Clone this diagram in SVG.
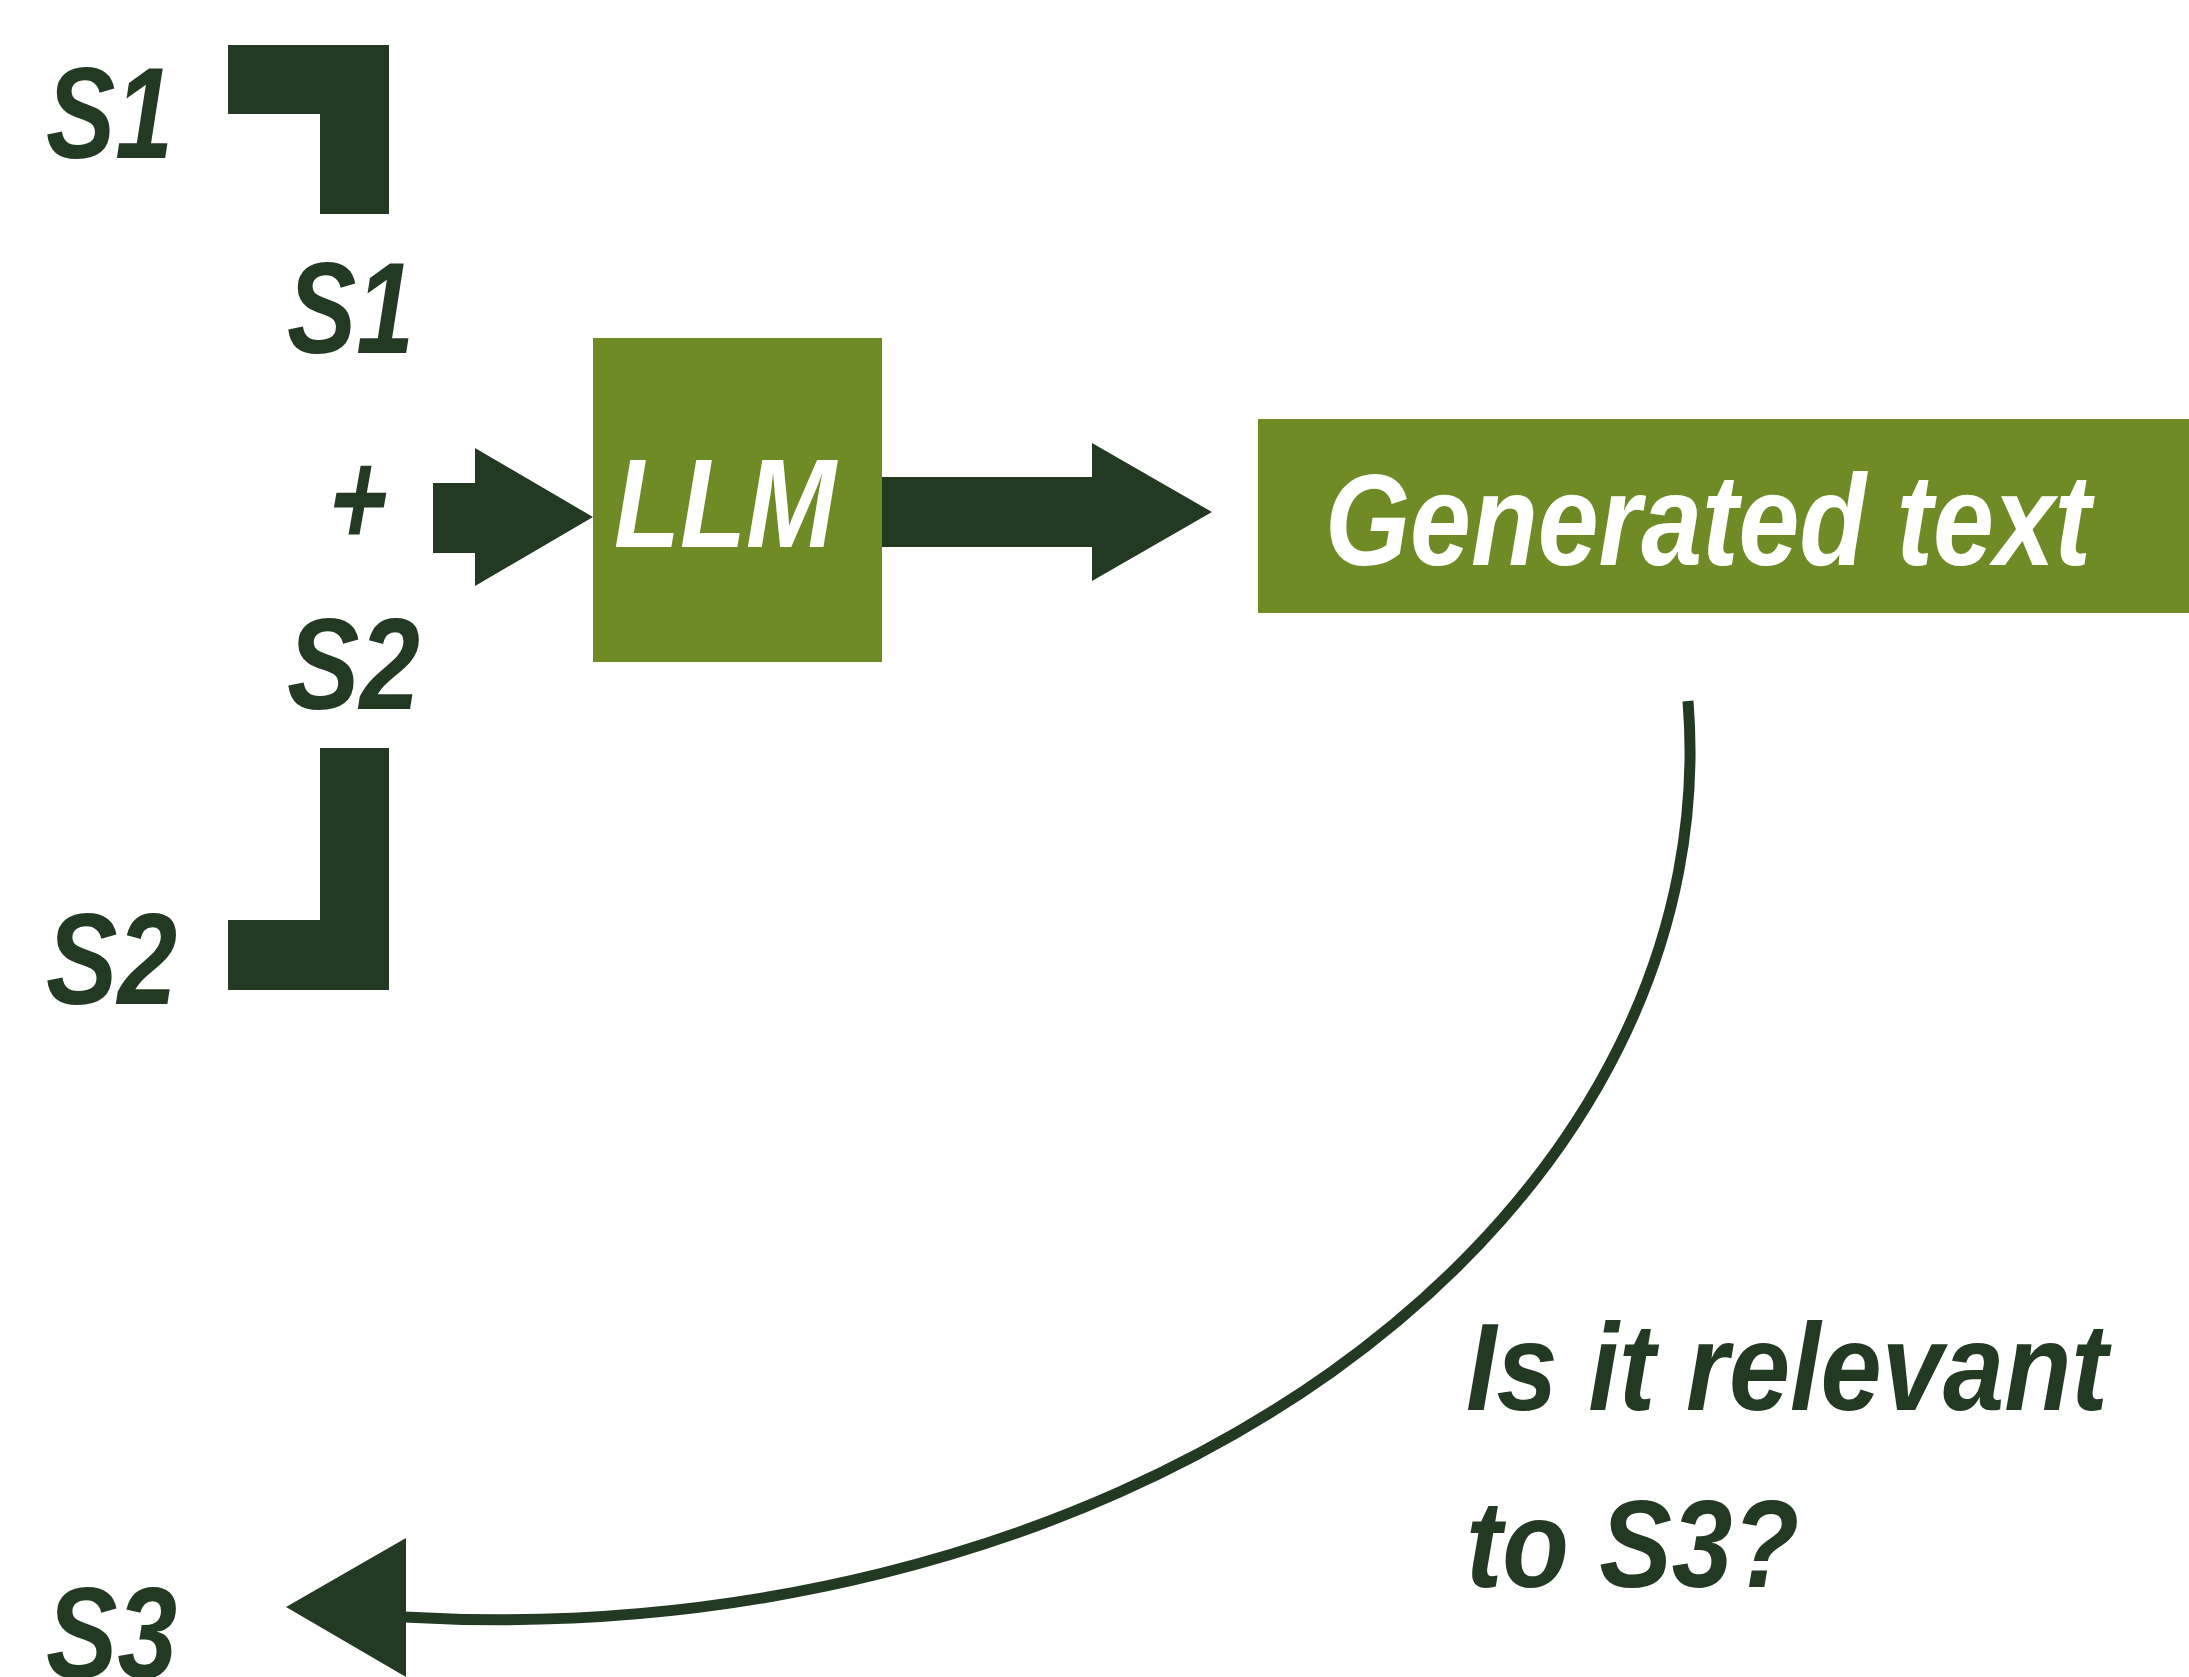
<svg xmlns="http://www.w3.org/2000/svg" width="2189" height="1677" viewBox="0 0 2189 1677">
  <style>
    .dk { fill: #233a22; }
    .box { fill: #6e8b25; }
    .lbl { font-family: "Liberation Sans", Arial, sans-serif; font-weight: bold; font-style: italic; fill: #233a22; }
    .wt { font-family: "Liberation Sans", Arial, sans-serif; font-weight: bold; font-style: italic; fill: #ffffff; }
    .line { fill: none; stroke: #233a22; stroke-width: 11; }
  </style>
  <rect width="2189" height="1677" fill="#ffffff"/>

  <g id="connectors">
    <polygon class="dk" points="228,45 389,45 389,214 320,214 320,114 228,114"/>
    <polygon class="dk" points="320,748 389,748 389,990 228,990 228,920 320,920"/>
    <polygon class="dk" points="433,483 475,483 475,448 593,517 475,586 475,553 433,553"/>
    <polygon class="dk" points="882,477 1092,477 1092,443 1212,512 1092,581 1092,547 882,547"/>
    <path class="line" d="M 1688 701 A 1193 868 0 0 1 404 1617"/>
    <polygon class="dk" points="406,1538 286,1607 406,1677"/>
  </g>

  <g id="label-s1-top">
    <text class="lbl" x="46" y="158" font-size="130" textLength="127" lengthAdjust="spacingAndGlyphs">S1</text>
  </g>
  <g id="label-s1-input">
    <text class="lbl" x="287" y="353" font-size="130" textLength="127" lengthAdjust="spacingAndGlyphs">S1</text>
  </g>
  <g id="label-plus">
    <text class="lbl" x="324" y="545" font-size="135" textLength="58" lengthAdjust="spacingAndGlyphs" transform="translate(355,530) skewX(-10) translate(-355,-530)">+</text>
  </g>
  <g id="label-s2-input">
    <text class="lbl" x="287" y="709" font-size="130" textLength="133" lengthAdjust="spacingAndGlyphs">S2</text>
  </g>
  <g id="label-s2-left">
    <text class="lbl" x="46" y="1004" font-size="130" textLength="131" lengthAdjust="spacingAndGlyphs">S2</text>
  </g>
  <g id="label-s3">
    <text class="lbl" x="46" y="1678" font-size="130" textLength="131" lengthAdjust="spacingAndGlyphs">S3</text>
  </g>

  <g id="node-llm">
    <rect class="box" x="593" y="338" width="289" height="324"/>
    <text class="wt" x="614" y="547" font-size="127" textLength="222" lengthAdjust="spacingAndGlyphs">LLM</text>
  </g>

  <g id="node-generated">
    <rect class="box" x="1258" y="419" width="931" height="194"/>
    <text class="wt" x="1325" y="565" font-size="130" textLength="766" lengthAdjust="spacingAndGlyphs">Generated text</text>
  </g>

  <g id="label-question">
    <text class="lbl" x="1466" y="1410" font-size="125" textLength="642" lengthAdjust="spacingAndGlyphs">Is it relevant</text>
    <text class="lbl" x="1466" y="1587" font-size="125" textLength="333" lengthAdjust="spacingAndGlyphs">to S3?</text>
  </g>
</svg>
